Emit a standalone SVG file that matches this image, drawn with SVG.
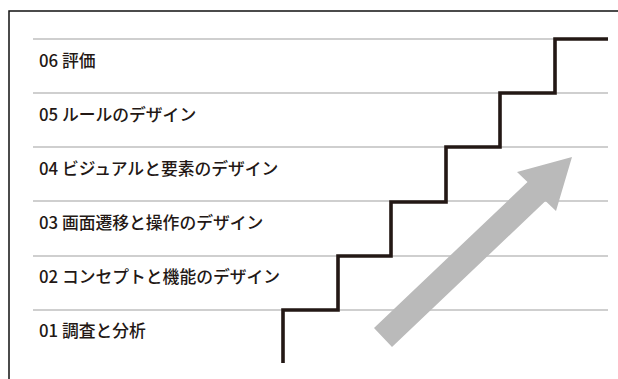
<svg xmlns="http://www.w3.org/2000/svg" width="618" height="379" viewBox="0 0 618 379">
<style>
.lbl{font-family:"Noto Sans CJK JP","Noto Sans",sans-serif;font-size:16.8px;font-weight:500;fill:#231815}
.rule{stroke:#a0a0a0;stroke-width:1.2;fill:none}
</style>
<rect width="618" height="379" fill="#ffffff"/>
<g id="frame">
<path d="M9,379 V11 H618" fill="none" stroke="#111" stroke-width="1.5"/>
</g>
<g id="rules">
<line class="rule" x1="33" y1="39" x2="608" y2="39"/>
<line class="rule" x1="33" y1="93" x2="608" y2="93"/>
<line class="rule" x1="33" y1="147" x2="608" y2="147"/>
<line class="rule" x1="33" y1="201" x2="608" y2="201"/>
<line class="rule" x1="33" y1="256" x2="608" y2="256"/>
<line class="rule" x1="33" y1="310" x2="608" y2="310"/>
</g>
<g id="step06"><text class="lbl" x="39" y="67">06 評価</text></g>
<g id="step05"><text class="lbl" x="39" y="121">05 ルールのデザイン</text></g>
<g id="step04"><text class="lbl" x="39" y="175">04 ビジュアルと要素のデザイン</text></g>
<g id="step03"><text class="lbl" x="39" y="229">03 画面遷移と操作のデザイン</text></g>
<g id="step02"><text class="lbl" x="39" y="283">02 コンセプトと機能のデザイン</text></g>
<g id="step01"><text class="lbl" x="39" y="337">01 調査と分析</text></g>
<g id="connectors">
<path id="stairs" d="M283,363 V310 H338 V256 H391 V202 H446 V147 H500 V93 H555 V39 H608" fill="none" stroke="#231815" stroke-width="3.6" stroke-linejoin="miter"/>
<polygon id="arrow" points="374,328 527.5,182 517,172 572,157 556,211 545.5,201 392,347" fill="#bababa"/>
</g>
</svg>
